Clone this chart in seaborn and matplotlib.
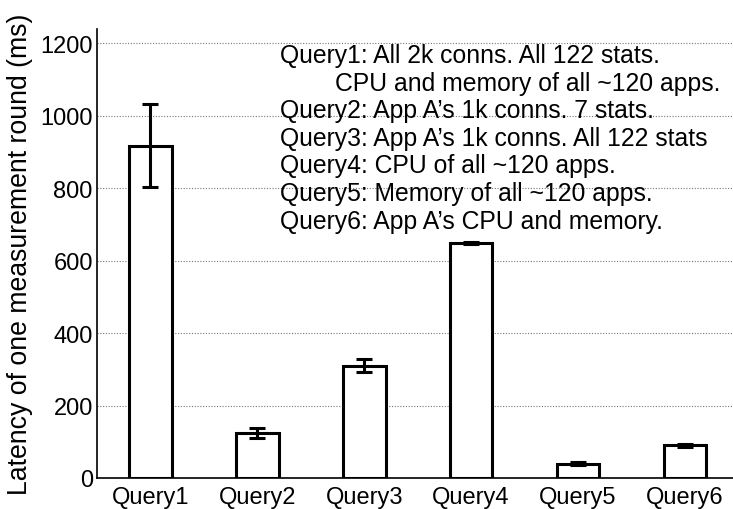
import matplotlib
matplotlib.use("Agg")
import matplotlib.pyplot as plt
import seaborn as sns
import pandas as pd

categories = ["Query1", "Query2", "Query3", "Query4", "Query5", "Query6"]
latency = [918, 124, 310, 648, 40, 90]
err = [115, 14, 18, 3, 4, 5]
yticks = [0, 200, 400, 600, 800, 1000, 1200]
notes = [
    "Query1: All 2k conns. All 122 stats.",
    "        CPU and memory of all ~120 apps.",
    "Query2: App A\u2019s 1k conns. 7 stats.",
    "Query3: App A\u2019s 1k conns. All 122 stats",
    "Query4: CPU of all ~120 apps.",
    "Query5: Memory of all ~120 apps.",
    "Query6: App A\u2019s CPU and memory.",
]

sns.set_theme(style="white")
plt.rcParams['font.family'] = ['Liberation Sans', 'DejaVu Sans']

df = pd.DataFrame({"query": categories, "latency": latency, "err": err})

fig = plt.figure(figsize=(7.33, 5.10), dpi=100)
ax = fig.add_axes([97/733, 1 - 479/510, 1 - 97/733, (479 - 30)/510])

ax.yaxis.grid(True, linestyle=(0, (1, 1.5)), color="#777777", linewidth=0.8)
ax.set_axisbelow(True)

sns.barplot(data=df, x="query", y="latency", ax=ax, width=0.4,
            color="white", edgecolor="black", linewidth=2.2, errorbar=None,
            zorder=3)
ax.errorbar(range(len(categories)), latency, yerr=err, fmt="none",
            ecolor="black", elinewidth=2.2, capsize=6, capthick=2.2, zorder=4)

ax.set_xlim(-0.5, 5.45)
ax.set_ylim(0, 1240)
ax.set_yticks(yticks)
ax.set_yticklabels([str(t) for t in yticks])
ax.tick_params(axis="y", labelsize=17, length=0, colors="black", pad=3)
ax.tick_params(axis="x", labelsize=17, length=0, colors="black", pad=6)
ax.set_xlabel("")
ax.set_ylabel("Latency of one measurement round (ms)", fontsize=19.2,
              color="black", labelpad=5)

for s in ["top", "right"]:
    ax.spines[s].set_visible(False)
for s in ["left", "bottom"]:
    ax.spines[s].set_color("black")
    ax.spines[s].set_linewidth(1.2)

ax.text(280/733, 1 - 44/510, "\n".join(notes), transform=fig.transFigure,
        fontsize=17.8, va="top", ha="left", linespacing=1.19, color="black",
        zorder=5)

fig.savefig("out.png", dpi=100)
